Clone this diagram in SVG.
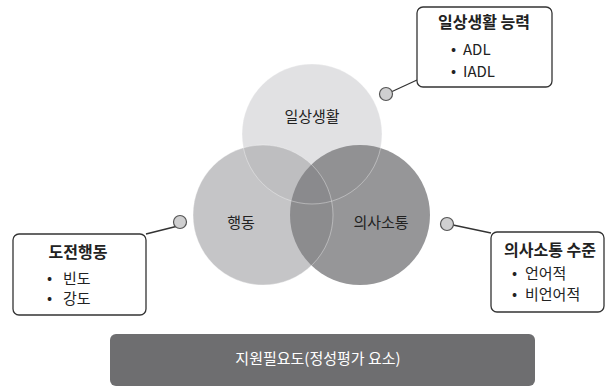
<svg xmlns="http://www.w3.org/2000/svg" width="615" height="387" viewBox="0 0 615 387">
<style>
text{font-family:"Noto Sans CJK KR","Noto Sans",sans-serif;fill:#222;font-size:15px}
.t{font-weight:bold;font-size:16px}
.c{text-anchor:middle}
.box{fill:#fff;stroke:#333;stroke-width:1.3}
.dot{fill:#cfcfd0;stroke:#555;stroke-width:1.2}
.ln{stroke:#333;stroke-width:1.3;fill:none}
.edge{fill:none;stroke:#fff;stroke-opacity:0.45;stroke-width:0.8}
</style>
<g id="venn">
<g id="circle-daily"><circle cx="312" cy="134" r="70" fill="#e1e1e3"/><text class="c" x="312" y="122">일상생활</text></g>
<g id="circle-behavior"><circle cx="263" cy="215" r="70" fill="#b2b2b4" fill-opacity="0.75"/><text class="c" x="241" y="228">행동</text></g>
<g id="circle-comm"><circle cx="360" cy="215" r="70" fill="#7f7f81" fill-opacity="0.82"/><text class="c" x="381" y="228">의사소통</text></g>
<circle class="edge" cx="312" cy="134" r="70"/>
<circle class="edge" cx="263" cy="215" r="70"/>
</g>
<g id="connectors">
<line class="ln" x1="391" y1="92" x2="417" y2="80"/>
<line class="ln" x1="186" y1="224" x2="146" y2="234"/>
<line class="ln" x1="453" y1="225" x2="491" y2="233"/>
<circle class="dot" cx="386" cy="94" r="6.5"/>
<circle class="dot" cx="180" cy="222" r="6.5"/>
<circle class="dot" cx="447" cy="224" r="6.5"/>
</g>
<g id="box-daily">
<rect class="box" x="417" y="7" width="135" height="80" rx="6"/>
<text class="t c" x="484" y="28">일상생활 능력</text>
<text x="451" y="54">•</text><text x="463" y="55">ADL</text>
<text x="451" y="76">•</text><text x="463" y="77">IADL</text>
</g>
<g id="box-behavior">
<rect class="box" x="13" y="234" width="133" height="81" rx="6"/>
<text class="t c" x="78" y="258">도전행동</text>
<text x="47" y="283">•</text><text x="63" y="284">빈도</text>
<text x="47" y="303">•</text><text x="63" y="304">강도</text>
</g>
<g id="box-comm">
<rect class="box" x="491" y="232" width="113" height="80" rx="6"/>
<text class="t c" x="550" y="256">의사소통 수준</text>
<text x="512" y="278">•</text><text x="525" y="279">언어적</text>
<text x="512" y="299">•</text><text x="525" y="300">비언어적</text>
</g>
<g id="support-bar">
<rect x="110" y="334" width="425" height="52" rx="6" fill="#6e6e70"/>
<text class="c" x="318" y="364" style="fill:#fff">지원필요도(정성평가 요소)</text>
</g>
</svg>
